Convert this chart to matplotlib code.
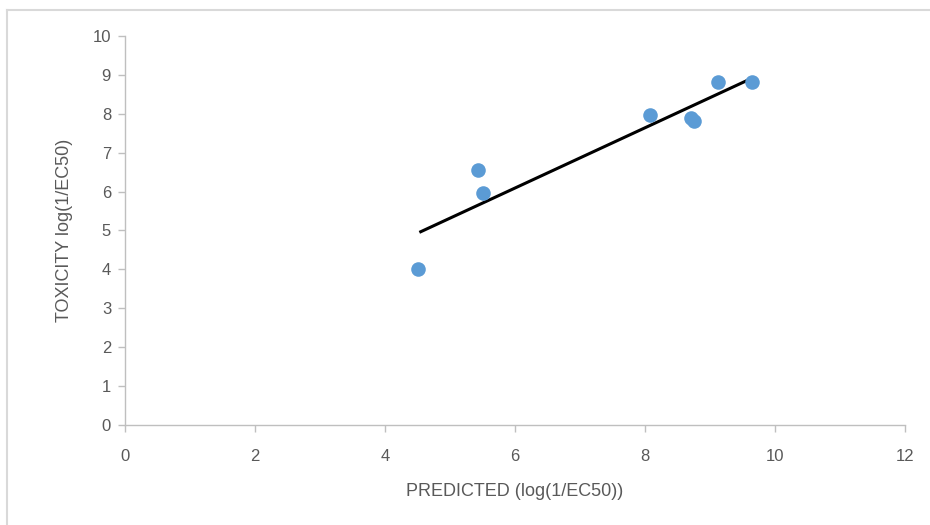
import numpy as np
import matplotlib
matplotlib.use("Agg")
import matplotlib.pyplot as plt
from matplotlib.lines import Line2D

predicted = [4.51, 5.43, 5.51, 8.08, 8.70, 8.76, 9.12, 9.65]
toxicity = [4.01, 6.55, 5.96, 7.97, 7.90, 7.81, 8.82, 8.82]
x_ticks = [0, 2, 4, 6, 8, 10, 12]
y_ticks = [0, 1, 2, 3, 4, 5, 6, 7, 8, 9, 10]

plt.rcParams['font.family'] = ['Liberation Sans', 'DejaVu Sans']

fig = plt.figure(figsize=(9.30, 5.25), dpi=100)
ax = fig.add_axes([125/930, 1 - 425/525, 780/930, 389/525])

ax.scatter(predicted, toxicity, s=110, color='#5B9BD5', zorder=3, linewidths=0)

slope, intercept = np.polyfit(predicted, toxicity, 1)
xs = np.array([min(predicted) + 0.04, max(predicted)])
ax.plot(xs, slope * xs + intercept, color='black', linewidth=2.2, zorder=2)

ax.set_xlim(0, 12)
ax.set_ylim(0, 10)
ax.set_xticks(x_ticks)
ax.set_yticks(y_ticks)
for s in ['top', 'right']:
    ax.spines[s].set_visible(False)
for s in ['left', 'bottom']:
    ax.spines[s].set_color('#BFBFBF')
    ax.spines[s].set_linewidth(1.0)
ax.tick_params(axis='both', colors='#BFBFBF', labelcolor='#595959', labelsize=12, length=5, width=1, direction='out')
ax.tick_params(axis='x', pad=12)
ax.tick_params(axis='y', pad=5)

ax.set_xlabel('PREDICTED (log(1/EC50))', fontsize=13, color='#595959', labelpad=14)
ax.set_ylabel('TOXICITY log(1/EC50)', fontsize=13, color='#595959', labelpad=14)

fig.add_artist(Line2D([7/930, 1.0], [1 - 10/525, 1 - 10/525], color='#D9D9D9', linewidth=1.5, transform=fig.transFigure))
fig.add_artist(Line2D([7/930, 7/930], [0.0, 1 - 10/525], color='#D9D9D9', linewidth=1.5, transform=fig.transFigure))

fig.savefig('out.png', dpi=100)
